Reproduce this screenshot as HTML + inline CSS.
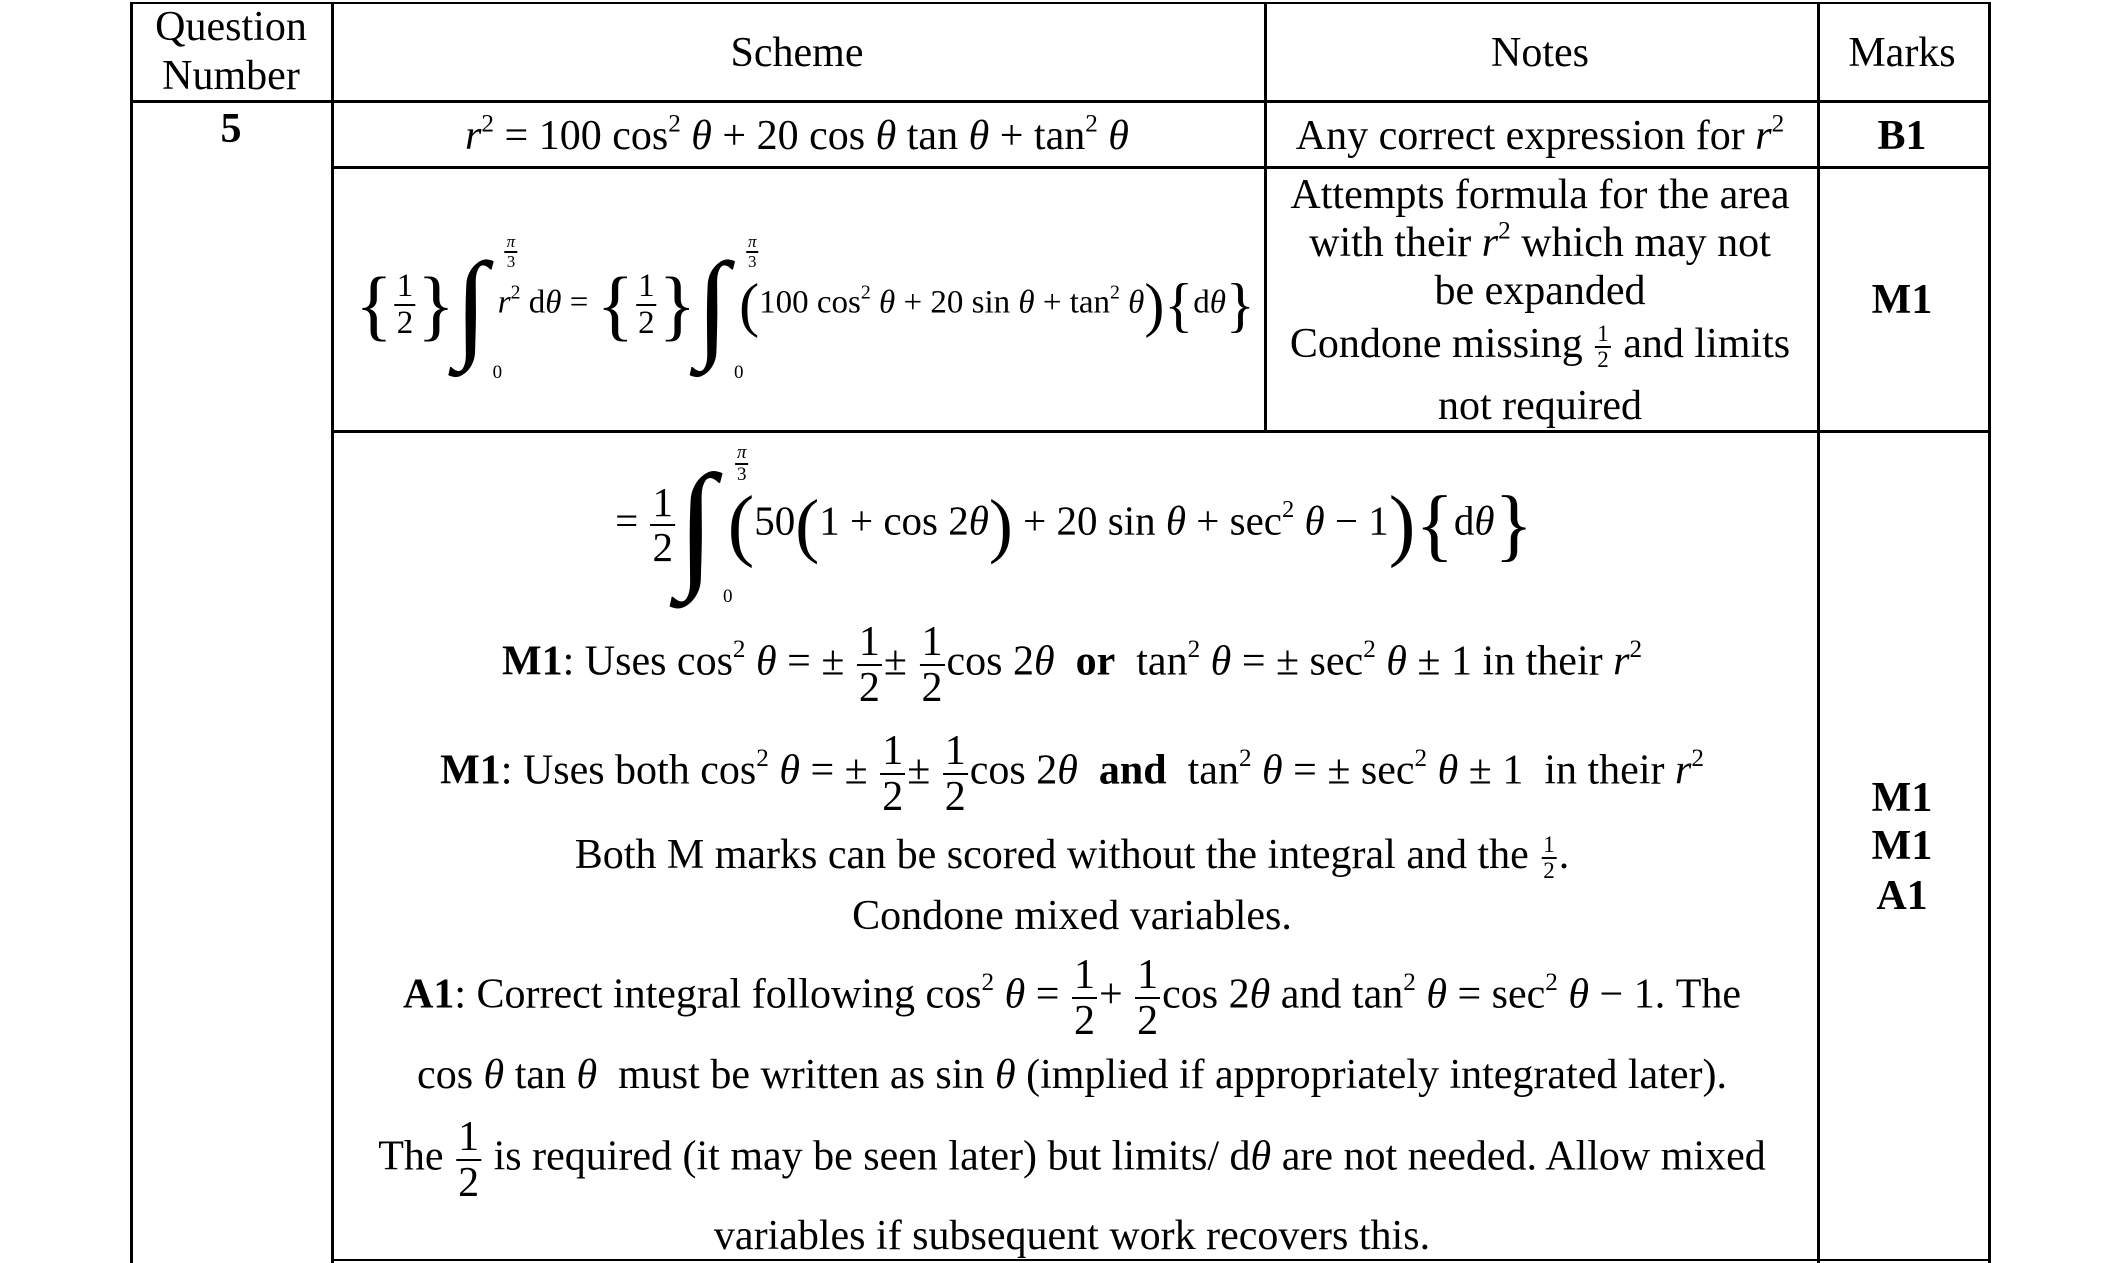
<!DOCTYPE html>
<html><head><meta charset="utf-8"><style>
html,body{margin:0;padding:0;background:#fff;}
body{width:2119px;height:1263px;position:relative;overflow:hidden;font-family:"Liberation Serif",serif;color:#000;}
.l{position:absolute;background:#000;}
.t{position:absolute;white-space:nowrap;font-size:42px;line-height:1;transform:translateX(-50%);}
.b{font-weight:bold;}
i{font-style:italic;}
sup{font-size:0.6em;vertical-align:0.7em;line-height:0;}
.fr{display:inline-flex;flex-direction:column;vertical-align:middle;text-align:center;line-height:1.05;margin:0 2px;}
.fr>span:first-child{border-bottom:2px solid #000;padding:0 2px;}
.sm{font-size:23px;}
.int{display:inline-block;position:relative;font-size:120px;vertical-align:middle;line-height:1;margin:0 2px 0 0;}
.int .up{position:absolute;left:48px;top:-12px;font-size:16px;}
.int .lo{position:absolute;left:38px;top:118px;font-size:19px;}
.big{font-size:64px;vertical-align:middle;font-weight:100;}
</style></head><body>
<div class="l" style="left:131px;top:2px;width:1859px;height:2px"></div>
<div class="l" style="left:131px;top:100px;width:1859px;height:3px"></div>
<div class="l" style="left:332px;top:166px;width:1658px;height:3px"></div>
<div class="l" style="left:332px;top:430px;width:1658px;height:3px"></div>
<div class="l" style="left:332px;top:1259px;width:1658px;height:2px"></div>
<div class="l" style="left:130px;top:2px;width:3px;height:1261px"></div>
<div class="l" style="left:331px;top:2px;width:3px;height:1261px"></div>
<div class="l" style="left:1264px;top:2px;width:3px;height:429px"></div>
<div class="l" style="left:1817px;top:2px;width:3px;height:1261px"></div>
<div class="l" style="left:1988px;top:2px;width:3px;height:1261px"></div>

<div class="t" style="left:231px;top:6px">Question</div>
<div class="t" style="left:231px;top:55px">Number</div>
<div class="t" style="left:797px;top:32px">Scheme</div>
<div class="t" style="left:1540px;top:32px">Notes</div>
<div class="t" style="left:1902px;top:32px">Marks</div>

<div class="t b" style="left:231px;top:108px">5</div>
<div class="t" style="left:797px;top:115px"><i>r</i><sup>2</sup> = 100 cos<sup>2</sup> <i>θ</i> + 20 cos <i>θ</i> tan <i>θ</i> + tan<sup>2</sup> <i>θ</i></div>
<div class="t" style="left:1540px;top:115px">Any correct expression for <i>r</i><sup>2</sup></div>
<div class="t b" style="left:1902px;top:115px">B1</div>

<div class="t" style="left:805px;top:305px;font-size:33px;transform:translateX(-50%) translateY(-50%);">
<span class="big" style="font-size:78px">{</span><span class="fr"><span>1</span><span>2</span></span><span class="big" style="font-size:78px">}</span><span class="int">∫<span class="up"><span class="fr" style="font-size:17px"><span><i>π</i></span><span>3</span></span></span><span class="lo">0</span></span>&nbsp;<i>r</i><sup>2</sup> d<i>θ</i> = <span class="big" style="font-size:78px">{</span><span class="fr"><span>1</span><span>2</span></span><span class="big" style="font-size:78px">}</span><span class="int">∫<span class="up"><span class="fr" style="font-size:17px"><span><i>π</i></span><span>3</span></span></span><span class="lo">0</span></span>&nbsp;<span class="big" style="font-size:60px">(</span>100 cos<sup>2</sup> <i>θ</i> + 20 sin <i>θ</i> + tan<sup>2</sup> <i>θ</i><span class="big" style="font-size:60px">)</span><span class="big" style="font-size:60px">{</span>d<i>θ</i><span class="big" style="font-size:60px">}</span>
</div>
<div class="t" style="left:1540px;top:174px">Attempts formula for the area</div>
<div class="t" style="left:1540px;top:222px">with their <i>r</i><sup>2</sup> which may not</div>
<div class="t" style="left:1540px;top:270px">be expanded</div>
<div class="t" style="left:1540px;top:322px">Condone missing <span class="fr sm"><span>1</span><span>2</span></span> and limits</div>
<div class="t" style="left:1540px;top:385px">not required</div>
<div class="t b" style="left:1902px;top:279px">M1</div>

<div class="t" style="left:1074px;top:525px;font-size:41px;transform:translateX(-50%) translateY(-50%);">
= <span class="fr"><span>1</span><span>2</span></span><span class="int" style="font-size:140px">∫<span class="up" style="left:56px;top:-12px"><span class="fr" style="font-size:19px"><span><i>π</i></span><span>3</span></span></span><span class="lo" style="left:46px;top:132px">0</span></span>&nbsp;<span class="big" style="font-size:80px">(</span>50<span class="big" style="font-size:72px">(</span>1 + cos 2<i>θ</i><span class="big" style="font-size:72px">)</span> + 20 sin <i>θ</i> + sec<sup>2</sup> <i>θ</i> − 1<span class="big" style="font-size:80px">)</span><span class="big" style="font-size:80px">{</span>d<i>θ</i><span class="big" style="font-size:80px">}</span>
</div>
<div class="t" style="left:1072px;top:620px"><b>M1</b>: Uses cos<sup>2</sup> <i>θ</i> = ± <span class="fr"><span>1</span><span>2</span></span>± <span class="fr"><span>1</span><span>2</span></span>cos 2<i>θ</i> &nbsp;<b>or</b>&nbsp; tan<sup>2</sup> <i>θ</i> = ± sec<sup>2</sup> <i>θ</i> ± 1 in their <i>r</i><sup>2</sup></div>
<div class="t" style="left:1072px;top:729px"><b>M1</b>: Uses both cos<sup>2</sup> <i>θ</i> = ± <span class="fr"><span>1</span><span>2</span></span>± <span class="fr"><span>1</span><span>2</span></span>cos 2<i>θ</i> &nbsp;<b>and</b>&nbsp; tan<sup>2</sup> <i>θ</i> = ± sec<sup>2</sup> <i>θ</i> ± 1 &nbsp;in their <i>r</i><sup>2</sup></div>
<div class="t" style="left:1072px;top:833px">Both M marks can be scored without the integral and the <span class="fr sm"><span>1</span><span>2</span></span>.</div>
<div class="t" style="left:1072px;top:895px">Condone mixed variables.</div>
<div class="t" style="left:1072px;top:953px"><b>A1</b>: Correct integral following cos<sup>2</sup> <i>θ</i> = <span class="fr"><span>1</span><span>2</span></span>+ <span class="fr"><span>1</span><span>2</span></span>cos 2<i>θ</i> and tan<sup>2</sup> <i>θ</i> = sec<sup>2</sup> <i>θ</i> − 1. The</div>
<div class="t" style="left:1072px;top:1054px">cos <i>θ</i> tan <i>θ</i> &nbsp;must be written as sin <i>θ</i> (implied if appropriately integrated later).</div>
<div class="t" style="left:1072px;top:1115px">The <span class="fr"><span>1</span><span>2</span></span> is required (it may be seen later) but limits/ d<i>θ</i> are not needed. Allow mixed</div>
<div class="t" style="left:1072px;top:1215px">variables if subsequent work recovers this.</div>
<div class="t b" style="left:1902px;top:777px">M1</div>
<div class="t b" style="left:1902px;top:825px">M1</div>
<div class="t b" style="left:1902px;top:875px">A1</div>
</body></html>
